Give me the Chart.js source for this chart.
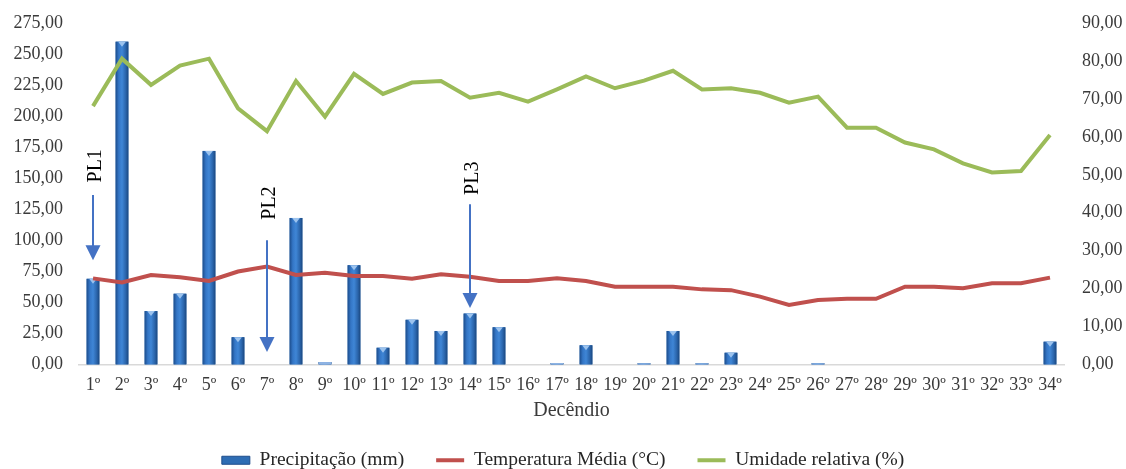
<!DOCTYPE html>
<html>
<head>
<meta charset="utf-8">
<script src="https://cdn.jsdelivr.net/npm/chart.js@4"></script>
<style>
  html, body { margin: 0; padding: 0; background: #ffffff; }
  canvas { display: block; }
</style>
</head>
<body>
<canvas id="c" width="1126" height="469"></canvas>
<script>
const categories = ['1º','2º','3º','4º','5º','6º','7º','8º','9º','10º','11º','12º','13º','14º','15º','16º','17º','18º','19º','20º','21º','22º','23º','24º','25º','26º','27º','28º','29º','30º','31º','32º','33º','34º'];
const precipitation = [69,260,43,57,172,22,0,118,2,80,13.5,36,27,41,30,0,1.2,15.5,0,1,27,1,9.5,0,0,1,0,0,0,0,0,0,0,18.4];
const temperature = [22.7,21.6,23.6,23.0,22.0,24.5,25.8,23.6,24.2,23.3,23.3,22.6,23.8,23.1,22.0,22.0,22.7,22.0,20.5,20.5,20.5,19.8,19.6,17.9,15.7,17.0,17.3,17.3,20.5,20.5,20.1,21.4,21.4,22.9];
const humidity = [68.1,80.6,73.7,78.8,80.6,67.5,61.5,74.7,65.3,76.6,71.3,74.3,74.7,70.3,71.6,69.3,72.5,75.9,72.8,74.8,77.4,72.5,72.8,71.6,69.0,70.6,62.4,62.4,58.5,56.7,53.0,50.6,51.0,60.5];
const seriesNames = ['Precipitação (mm)', 'Temperatura Média (°C)', 'Umidade relativa (%)'];
const leftAxisMax = 275, leftAxisStep = 25;
const rightAxisMax = 90, rightAxisStep = 10;
const xAxisTitle = 'Decêndio';
// PL markers: category index, label centre and arrow start/end in left-axis units
const markerLabels = ['PL1', 'PL2', 'PL3'];
const markerCategory = [0, 6, 13];
const markerTextValue = [160, 130, 150];
const markerArrowFrom = [136.5, 100, 129];
const markerArrowTo = [84, 10, 45.5];

const FONT = "'Liberation Serif', 'Times New Roman', serif";
const fmt = v => Number(v).toFixed(2).replace('.', ',');

const barShade = {
  id: 'barShade',
  afterDatasetDraw(chart, args) {
    if (args.index !== 0) return;
    const ctx = chart.ctx;
    const meta = args.meta;
    ctx.save();
    meta.data.forEach(el => {
      const p = el.getProps(['x', 'y', 'base', 'width'], true);
      const h = p.base - p.y;
      if (h <= 0.3) return;
      const l = p.x - p.width / 2, r = p.x + p.width / 2;
      const g = ctx.createLinearGradient(l, 0, r, 0);
      g.addColorStop(0, '#1c4d8c');
      g.addColorStop(0.25, '#3476c6');
      g.addColorStop(0.5, '#3f86d6');
      g.addColorStop(0.8, '#2a64aa');
      g.addColorStop(1, '#1a477f');
      ctx.fillStyle = g;
      ctx.fillRect(l, p.y, p.width, h);
      if (h > 3) {
        ctx.fillStyle = '#9cc3ee';
        ctx.beginPath();
        ctx.moveTo(p.x - p.width * 0.3, p.y);
        ctx.lineTo(p.x + p.width * 0.3, p.y);
        ctx.lineTo(p.x, p.y + Math.min(5, h));
        ctx.closePath();
        ctx.fill();
      } else {
        ctx.fillStyle = '#8fb4e3';
        ctx.fillRect(l, p.y, p.width, h);
      }
    });
    ctx.restore();
  }
};

const markers = {
  id: 'markers',
  afterDatasetsDraw(chart) {
    const ctx = chart.ctx;
    const xs = chart.scales.x, ys = chart.scales.y;
    ctx.save();
    markerLabels.forEach((lab, i) => {
      const x = xs.getPixelForValue(markerCategory[i]);
      const y0 = ys.getPixelForValue(markerArrowFrom[i]);
      const y1 = ys.getPixelForValue(markerArrowTo[i]);
      const ty = ys.getPixelForValue(markerTextValue[i]);
      ctx.strokeStyle = '#4472c4';
      ctx.fillStyle = '#4472c4';
      ctx.lineWidth = 2;
      ctx.beginPath();
      ctx.moveTo(x, y0);
      ctx.lineTo(x, y1 - 12);
      ctx.stroke();
      ctx.beginPath();
      ctx.moveTo(x - 7.5, y1 - 15);
      ctx.lineTo(x + 7.5, y1 - 15);
      ctx.lineTo(x, y1);
      ctx.closePath();
      ctx.fill();
      ctx.save();
      ctx.translate(x + 2.5, ty);
      ctx.rotate(-Math.PI / 2);
      ctx.fillStyle = '#000000';
      ctx.font = '20px ' + FONT;
      ctx.textAlign = 'center';
      ctx.textBaseline = 'middle';
      ctx.fillText(lab, 0, 0);
      ctx.restore();
    });
    ctx.restore();
  }
};

new Chart(document.getElementById('c'), {
  data: {
    labels: categories,
    datasets: [
      {
        type: 'bar', label: seriesNames[0], data: precipitation, yAxisID: 'y',
        backgroundColor: '#2e6db4', borderWidth: 0,
        categoryPercentage: 1.0, barPercentage: 0.44, order: 3
      },
      {
        type: 'line', label: seriesNames[1], data: temperature, yAxisID: 'y1',
        borderColor: '#c0504d', borderWidth: 4, pointRadius: 0, tension: 0, order: 1
      },
      {
        type: 'line', label: seriesNames[2], data: humidity, yAxisID: 'y1',
        borderColor: '#9bbb59', borderWidth: 4, pointRadius: 0, tension: 0, order: 0
      }
    ]
  },
  options: {
    responsive: false,
    animation: false,
    events: [],
    layout: { padding: { top: 23, left: 0, right: 0, bottom: 0 } },
    scales: {
      x: {
        grid: { display: false, drawTicks: false },
        border: { display: true, color: '#d9d9d9', width: 1.5 },
        ticks: {
          color: '#3a3a3a', font: { family: FONT, size: 18 }, padding: 10,
          maxRotation: 0, minRotation: 0, autoSkip: false
        },
        title: {
          display: true, text: xAxisTitle, color: '#3a3a3a',
          font: { family: FONT, size: 20 }, padding: { top: 0, bottom: -4.5 }
        },
        afterFit(s) { s.height = 54; }
      },
      y: {
        position: 'left', min: 0, max: leftAxisMax,
        grid: { display: false, drawTicks: false },
        border: { display: false },
        ticks: {
          stepSize: leftAxisStep, color: '#3a3a3a', font: { family: FONT, size: 18 }, padding: 15.5,
          callback: v => fmt(v)
        },
        afterFit(s) { s.width = 78.5; s.paddingTop = 11; s.paddingBottom = 11; }
      },
      y1: {
        position: 'right', min: 0, max: rightAxisMax,
        grid: { display: false, drawTicks: false },
        border: { display: false },
        ticks: {
          stepSize: rightAxisStep, color: '#3a3a3a', font: { family: FONT, size: 18 }, padding: 17.5,
          callback: v => fmt(v)
        },
        afterFit(s) { s.width = 61.5; s.paddingTop = 11; s.paddingBottom = 11; }
      }
    },
    plugins: {
      tooltip: { enabled: false },
      legend: {
        position: 'bottom',
        maxHeight: 50.5,
        labels: {
          color: '#262626',
          font: { family: FONT, size: 19.5 },
          padding: 32,
          usePointStyle: true,
          pointStyleWidth: 28,
          boxHeight: 8,
          generateLabels(chart) {
            return chart.data.datasets.map((ds, i) => ({
              text: ds.label,
              datasetIndex: i,
              fillStyle: i === 0 ? '#2e6db4' : ds.borderColor,
              strokeStyle: i === 0 ? '#1f4e8c' : ds.borderColor,
              lineWidth: i === 0 ? 1 : 4,
              pointStyle: i === 0 ? 'rect' : 'line',
              fontColor: '#262626',
              hidden: false
            }));
          }
        }
      }
    }
  },
  plugins: [barShade, markers]
});
</script>
</body>
</html>
